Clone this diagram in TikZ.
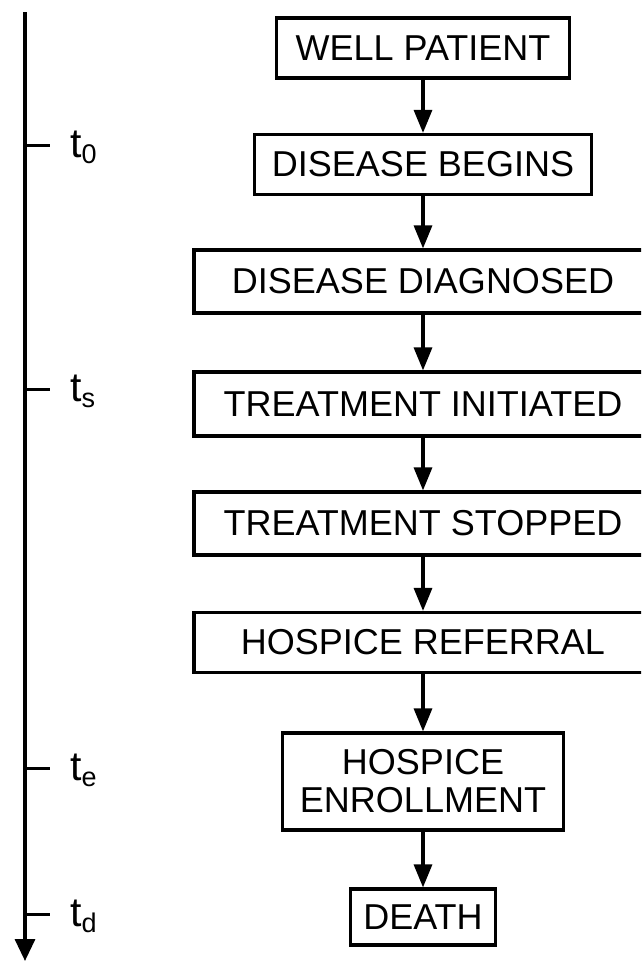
\documentclass[tikz,border=0pt]{standalone}
\usepackage{fontspec}
\setmainfont{Liberation Sans}
\usetikzlibrary{arrows.meta}
\newcommand{\tsub}[1]{t\raisebox{-0.32ex}{\fontsize{27}{27}\selectfont #1}}

\begin{document}
\begin{tikzpicture}[x=1pt,y=-1pt,
		stage/.style={draw,line width=3.2pt,inner sep=0pt,minimum height=60pt,align=center,font=\fontsize{36}{38}\selectfont},
		flow/.style={line width=3.2pt,-{Triangle[length=23pt,width=18pt]}},
		tline/.style={line width=3.4pt,-{Triangle[length=22pt,width=20pt]}},
		tick/.style={line width=3pt},
		tlabel/.style={anchor=base west,inner sep=0pt,font=\fontsize{41}{41}\selectfont}]
			\useasboundingbox (0,0) rectangle (641,961);
			\clip (0,0) rectangle (641,961);
			% time axis
			\coordinate (ttop) at (25,12);
			\coordinate (tend) at (25,961);
			\draw [tline] (ttop) -- (tend);
			\foreach \y/\s in {145/0,389/s,768/e,914/d}{
				\draw [tick] (25,\y) -- (50,\y);
				\node [tlabel] (t\s) at (70,\y+12) {\tsub{\s}};
			}
			% stages
			\node [stage,minimum width=293pt] (well) at (423,48) {WELL PATIENT};
			\node [stage,minimum width=337pt] (begins) at (423,164.5) {DISEASE BEGINS};
			\node [stage,minimum width=458pt,minimum height=63pt] (diag) at (423,281.5) {DISEASE DIAGNOSED};
			\node [stage,minimum width=458pt,minimum height=64pt] (init) at (423,404) {TREATMENT INITIATED};
			\node [stage,minimum width=458pt,minimum height=63pt] (stop) at (423,523.5) {TREATMENT STOPPED};
			\node [stage,minimum width=458pt] (refer) at (423,642.5) {HOSPICE REFERRAL};
			\node [stage,minimum width=281pt,minimum height=97pt] (enrol) at (423,781.5) {HOSPICE\\ENROLLMENT};
			\node [stage,minimum width=145pt,minimum height=56pt] (death) at (423,917) {DEATH};
			\draw [flow] (well) -- (begins);
			\draw [flow] (begins) -- (diag);
			\draw [flow] (diag) -- (init);
			\draw [flow] (init) -- (stop);
			\draw [flow] (stop) -- (refer);
			\draw [flow] (refer) -- (enrol);
			\draw [flow] (enrol) -- (death);
		\end{tikzpicture}
\end{document}
